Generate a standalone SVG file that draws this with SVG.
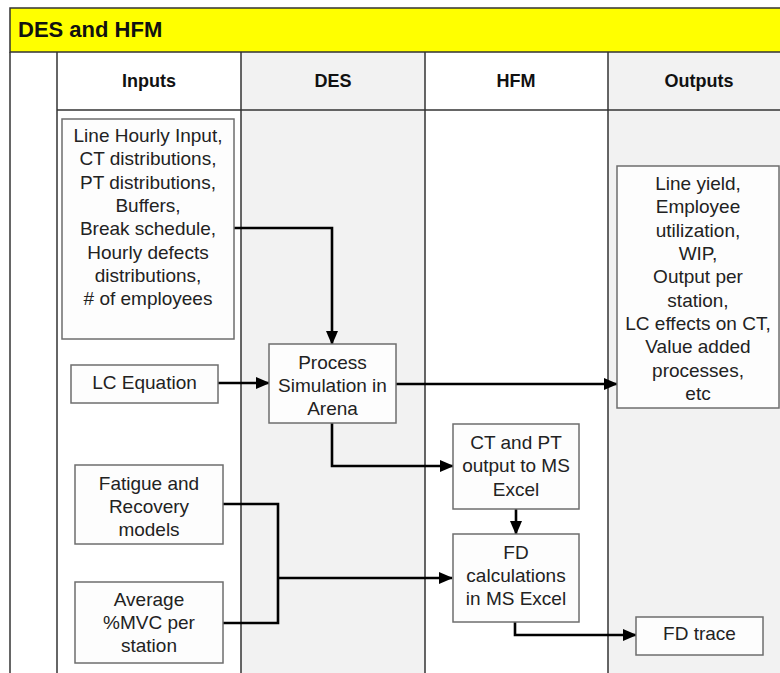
<svg xmlns="http://www.w3.org/2000/svg" width="780" height="673" viewBox="0 0 780 673">
<defs>
<style>
.t{font-family:"Liberation Sans",Arial,sans-serif;font-size:19px;fill:#222;text-anchor:middle}
.h{font-family:"Liberation Sans",Arial,sans-serif;font-size:18px;font-weight:bold;fill:#111;text-anchor:middle}
.box{fill:#fdfdfd;stroke:#6e6e6e;stroke-width:1.5}
.frame{fill:none;stroke:#333;stroke-width:1.5}
.c{fill:none;stroke:#000;stroke-width:2.6}
</style>
<marker id="ah" markerUnits="userSpaceOnUse" markerWidth="14" markerHeight="12" refX="13" refY="6" orient="auto">
<path d="M0,0 L14,6 L0,12 Z" fill="#000"/>
</marker>
</defs>
<rect width="780" height="673" fill="#fff"/>
<g id="lanes">
<rect x="241" y="52" width="184" height="621" fill="#f2f2f2"/>
<rect x="608" y="52" width="172" height="621" fill="#f2f2f2"/>
<rect x="10" y="8" width="780" height="44" fill="#ffff00" stroke="#333" stroke-width="1.5"/>
<line class="frame" x1="10" y1="52" x2="10" y2="673"/>
<line class="frame" x1="57" y1="52" x2="57" y2="673"/>
<line class="frame" x1="241" y1="52" x2="241" y2="673"/>
<line class="frame" x1="425" y1="52" x2="425" y2="673"/>
<line class="frame" x1="608" y1="52" x2="608" y2="673"/>
<line class="frame" x1="57" y1="110" x2="780" y2="110"/>
<text x="18" y="37" font-family="Liberation Sans,Arial,sans-serif" font-size="22" font-weight="bold" fill="#111">DES and HFM</text>
<text class="h" x="149" y="87">Inputs</text>
<text class="h" x="333" y="87">DES</text>
<text class="h" x="516" y="87">HFM</text>
<text class="h" x="699" y="87">Outputs</text>
</g>
<g id="connectors">
<polyline class="c" points="234,228 332,228 332,344" marker-end="url(#ah)"/>
<line class="c" x1="218" y1="383" x2="269" y2="383" marker-end="url(#ah)"/>
<line class="c" x1="396" y1="384" x2="617" y2="384" marker-end="url(#ah)"/>
<polyline class="c" points="332,423 332,466 453,466" marker-end="url(#ah)"/>
<line class="c" x1="516" y1="509" x2="516" y2="534" marker-end="url(#ah)"/>
<polyline class="c" points="223,504 278,504 278,623 223,623"/>
<line class="c" x1="278" y1="578" x2="452" y2="578" marker-end="url(#ah)"/>
<polyline class="c" points="515,622 515,635 636,635" marker-end="url(#ah)"/>
</g>
<g id="inputs-list">
<rect class="box" x="62" y="119" width="172" height="220"/>
<text class="t" x="148" y="142">Line Hourly Input,<tspan x="148" dy="23.3">CT distributions,</tspan><tspan x="148" dy="23.3">PT distributions,</tspan><tspan x="148" dy="23.3">Buffers,</tspan><tspan x="148" dy="23.3">Break schedule,</tspan><tspan x="148" dy="23.3">Hourly defects</tspan><tspan x="148" dy="23.3">distributions,</tspan><tspan x="148" dy="23.3"># of employees</tspan></text>
</g>
<g id="lc-equation">
<rect class="box" x="71" y="365" width="147" height="38"/>
<text class="t" x="144.5" y="389">LC Equation</text>
</g>
<g id="process-sim">
<rect class="box" x="269" y="344" width="127" height="79"/>
<text class="t" x="332.5" y="369">Process<tspan x="332.5" dy="23">Simulation in</tspan><tspan x="332.5" dy="23">Arena</tspan></text>
</g>
<g id="outputs-list">
<rect class="box" x="617" y="166" width="162" height="242"/>
<text class="t" x="698" y="190">Line yield,<tspan x="698" dy="23.33">Employee</tspan><tspan x="698" dy="23.33">utilization,</tspan><tspan x="698" dy="23.33">WIP,</tspan><tspan x="698" dy="23.33">Output per</tspan><tspan x="698" dy="23.33">station,</tspan><tspan x="698" dy="23.33">LC effects on CT,</tspan><tspan x="698" dy="23.33">Value added</tspan><tspan x="698" dy="23.33">processes,</tspan><tspan x="698" dy="23.33">etc</tspan></text>
</g>
<g id="ct-pt">
<rect class="box" x="453" y="424" width="126" height="85"/>
<text class="t" x="516" y="449">CT and PT<tspan x="516" dy="23.3">output to MS</tspan><tspan x="516" dy="23.3">Excel</tspan></text>
</g>
<g id="fd-calc">
<rect class="box" x="453" y="534" width="126" height="88"/>
<text class="t" x="516" y="559">FD<tspan x="516" dy="23">calculations</tspan><tspan x="516" dy="23">in MS Excel</tspan></text>
</g>
<g id="fatigue">
<rect class="box" x="75" y="465" width="148" height="79"/>
<text class="t" x="149" y="490">Fatigue and<tspan x="149" dy="23">Recovery</tspan><tspan x="149" dy="23">models</tspan></text>
</g>
<g id="mvc">
<rect class="box" x="75" y="582" width="148" height="81"/>
<text class="t" x="149" y="606">Average<tspan x="149" dy="23">%MVC per</tspan><tspan x="149" dy="23">station</tspan></text>
</g>
<g id="fd-trace">
<rect class="box" x="636" y="617" width="127" height="38"/>
<text class="t" x="699.5" y="640">FD trace</text>
</g>
</svg>
